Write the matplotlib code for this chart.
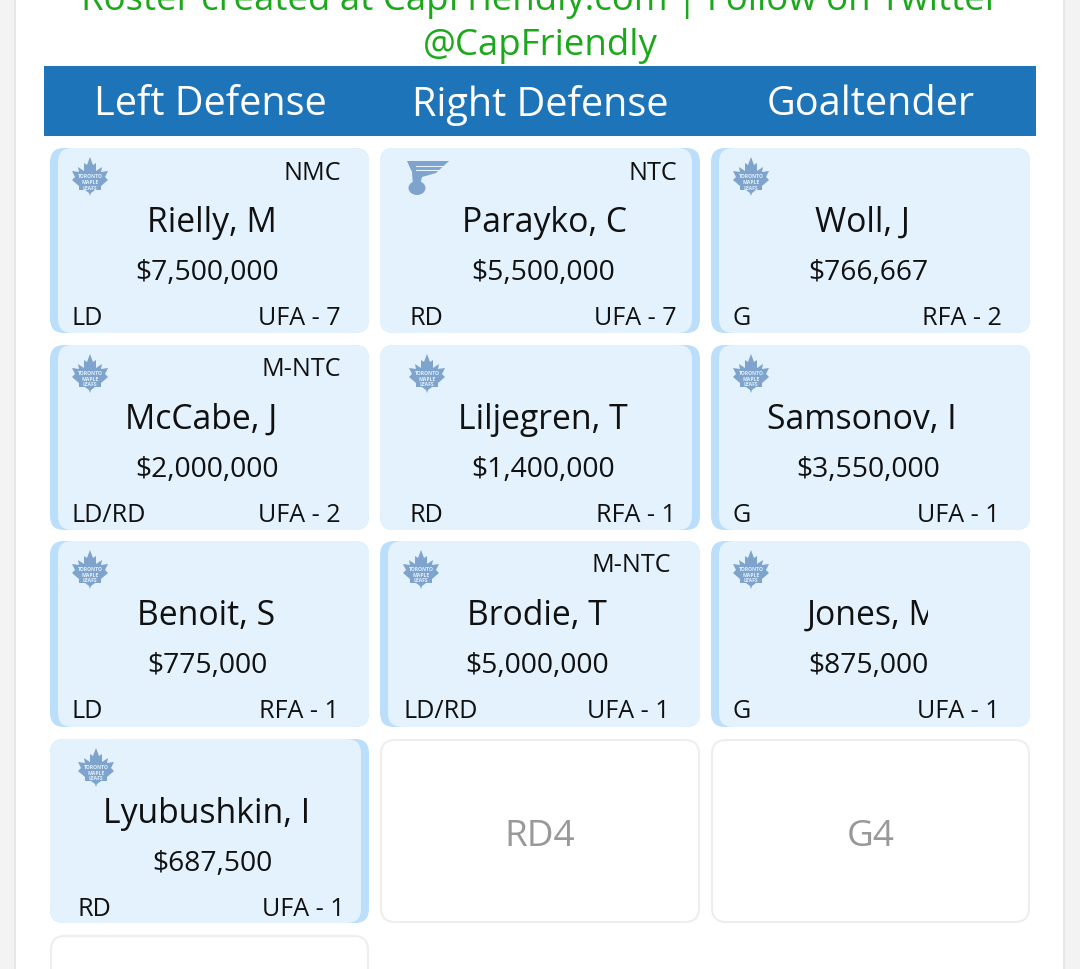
import matplotlib
matplotlib.use('Agg')
import matplotlib.pyplot as plt
from matplotlib.patches import FancyBboxPatch, Polygon, Ellipse, Rectangle

plt.rcParams['font.family'] = ['Open Sans', 'DejaVu Sans']

# roster data
headers = ['Left Defense', 'Right Defense', 'Goaltender']
names = ['Rielly, M', 'Parayko, C', 'Woll, J',
         'McCabe, J', 'Liljegren, T', 'Samsonov, I',
         'Benoit, S', 'Brodie, T', 'Jones, M',
         'Lyubushkin, I']
salaries = ['$7,500,000', '$5,500,000', '$766,667',
            '$2,000,000', '$1,400,000', '$3,550,000',
            '$775,000', '$5,000,000', '$875,000',
            '$687,500']
positions = ['LD', 'RD', 'G',
             'LD/RD', 'RD', 'G',
             'LD', 'LD/RD', 'G',
             'RD']
contracts = ['UFA - 7', 'UFA - 7', 'RFA - 2',
             'UFA - 2', 'RFA - 1', 'UFA - 1',
             'RFA - 1', 'UFA - 1', 'UFA - 1',
             'UFA - 1']
clauses = ['NMC', 'NTC', '',
           'M-NTC', '', '',
           '', 'M-NTC', '',
           '']
teams = ['TOR', 'STL', 'TOR',
         'TOR', 'TOR', 'TOR',
         'TOR', 'TOR', 'TOR',
         'TOR']

# layout, in screen pixels
col_x = [(50, 369), (380, 700), (711, 1030)]
row_y = [(148, 333), (345, 530), (541, 727), (739, 923)]
stripe_side = ['l', 'r', 'l', 'l', 'r', 'l', 'l', 'l', 'l', 'r']
name_x = [212, 544, 862, 201, 543, 862, 206, 537, 807, 207]
salary_x = [207, 543, 868, 207, 543, 868, 207, 537, 868, 212]
left_x = [72, 409, 733, 72, 409, 733, 72, 403, 733, 78]
right_x = [341, 677, 1002, 341, 676, 1000, 339, 670, 1000, 345]
clause_x = [341, 677, 0, 341, 0, 0, 0, 671, 0, 0]
logo_x = [90, 428, 751, 90, 427, 751, 90, 421, 751, 96]

CARD = '#e3f2fd'
STRIPE = '#bbdefb'
LOGO = '#7ea3cc'
INK = '#111111'
BORDER = '#eeeeee'
GREEN = '#1ba81b'
HEAD = '#1e74b9'

fig = plt.figure(figsize=(10.8, 9.7), dpi=100)
ax = fig.add_axes([0, 0, 1, 1])
ax.set_xlim(0, 1080)
ax.set_ylim(969, -1)
ax.axis('off')


def rbox(x0, y0, x1, y1, r=14, **kw):
    p = FancyBboxPatch((x0 + r, y0 + r), x1 - x0 - 2 * r, y1 - y0 - 2 * r,
                       boxstyle='round,pad=%d,rounding_size=%d' % (r, r),
                       mutation_aspect=1, **kw)
    ax.add_patch(p)
    return p


def draw_leaf(cx, cy):
    # rough maple leaf, 36 px wide
    pts = [(0, -20), (3, -12), (6, -14), (6, -6), (12, -10), (11, -5), (18, -6),
           (15, 0), (18, 3), (11, 9), (11, 13), (5, 13), (1, 16), (0, 19), (-1, 16),
           (-5, 13), (-11, 13), (-11, 9), (-18, 3), (-15, 0), (-18, -6), (-11, -5),
           (-12, -10), (-6, -6), (-6, -14), (-3, -12)]
    ax.add_patch(Polygon([(cx + a, cy + b) for a, b in pts], closed=True, fc=LOGO, ec='none', zorder=3))
    for dy, s in zip([-1, 5, 10], ['TORONTO', 'MAPLE', 'LEAFS']):
        ax.text(cx, cy + dy, s, fontsize=3.6, fontweight='bold', color='#e3f2fd',
                ha='center', va='center', zorder=4)


def draw_note(cx, cy):
    # St. Louis blue note
    pts = [(-21, -15), (21, -15), (8, -3), (-6, 1), (-8, 10), (-15, 10), (-16, -4)]
    ax.add_patch(Polygon([(cx + a, cy + b) for a, b in pts], closed=True, fc=LOGO, ec='none', zorder=3))
    ax.add_patch(Ellipse((cx - 11, cy + 12), 17, 14, fc=LOGO, ec='none', zorder=3))
    for dy in [-10, -6]:
        ax.plot([cx - 12, cx + 15], [cy + dy, cy + dy], color=CARD, lw=0.8, zorder=4)


# page background and panel
ax.add_patch(Rectangle((0, -1), 1080, 971, fc='#f3f3f3', ec='none', zorder=0))
ax.add_patch(Rectangle((15, -5), 1049, 980, fc='white', ec='#e4e4e4', lw=1.2, zorder=0.5))

ax.text(540, 0, 'Roster created at CapFriendly.com | Follow on Twitter', fontsize=26.4,
        color=GREEN, ha='center', va='center')
ax.text(540, 45, '@CapFriendly', fontsize=26.4, color=GREEN, ha='center', va='center')

ax.add_patch(Rectangle((44, 66), 992, 70, fc=HEAD, ec='none', zorder=1))
for x, h in zip([210, 540, 871], headers):
    ax.text(x, 104, h, fontsize=28.5, color='white', ha='center', va='center', zorder=2)

for i in range(len(names)):
    r, c = divmod(i, 3)
    x0, x1 = col_x[c]
    y0, y1 = row_y[r]
    rbox(x0, y0, x1, y1, fc=STRIPE, ec='none', zorder=1)
    if stripe_side[i] == 'l':
        rbox(x0 + 8, y0, x1, y1, fc=CARD, ec='none', zorder=1.5)
    else:
        rbox(x0, y0, x1 - 8, y1, fc=CARD, ec='none', zorder=1.5)

    ly = y0 + 29
    if teams[i] == 'STL':
        draw_note(logo_x[i], ly - 1)
    else:
        draw_leaf(logo_x[i], ly)

    if clauses[i]:
        ax.text(clause_x[i], y0 + 24, clauses[i], fontsize=18.1, color=INK, ha='right',
                va='center', zorder=3)
    if names[i] == 'Jones, M':
        # name is cut off inside its box in the screenshot
        t = ax.text(name_x[i], y0 + 74, names[i], fontsize=24.3, color=INK, ha='left',
                    va='center', zorder=3)
        t.set_clip_path(Rectangle((800, y0), 128, 120, transform=ax.transData))
        t.set_clip_on(True)
    else:
        ax.text(name_x[i], y0 + 74, names[i], fontsize=24.3, color=INK, ha='center',
                va='center', zorder=3)
    ax.text(salary_x[i], y0 + 124, salaries[i], fontsize=20.3, color=INK, ha='center',
            va='center', zorder=3)
    ax.text(left_x[i], y0 + 170, positions[i], fontsize=18.1, color=INK, ha='left',
            va='center', zorder=3)
    ax.text(right_x[i], y0 + 170, contracts[i], fontsize=18.1, color=INK, ha='right',
            va='center', zorder=3)

# empty slots
for c, label in zip([1, 2], ['RD4', 'G4']):
    x0, x1 = col_x[c]
    rbox(x0 + 1, 740, x1 - 1, 922, fc='white', ec=BORDER, lw=1.5, zorder=1)
    ax.text((x0 + x1) / 2, 836, label, fontsize=26.6, color='#999999', ha='center',
            va='center', zorder=3)
rbox(51, 936, 368, 1010, fc='white', ec=BORDER, lw=1.5, zorder=1)

fig.savefig('out.png', dpi=100)
